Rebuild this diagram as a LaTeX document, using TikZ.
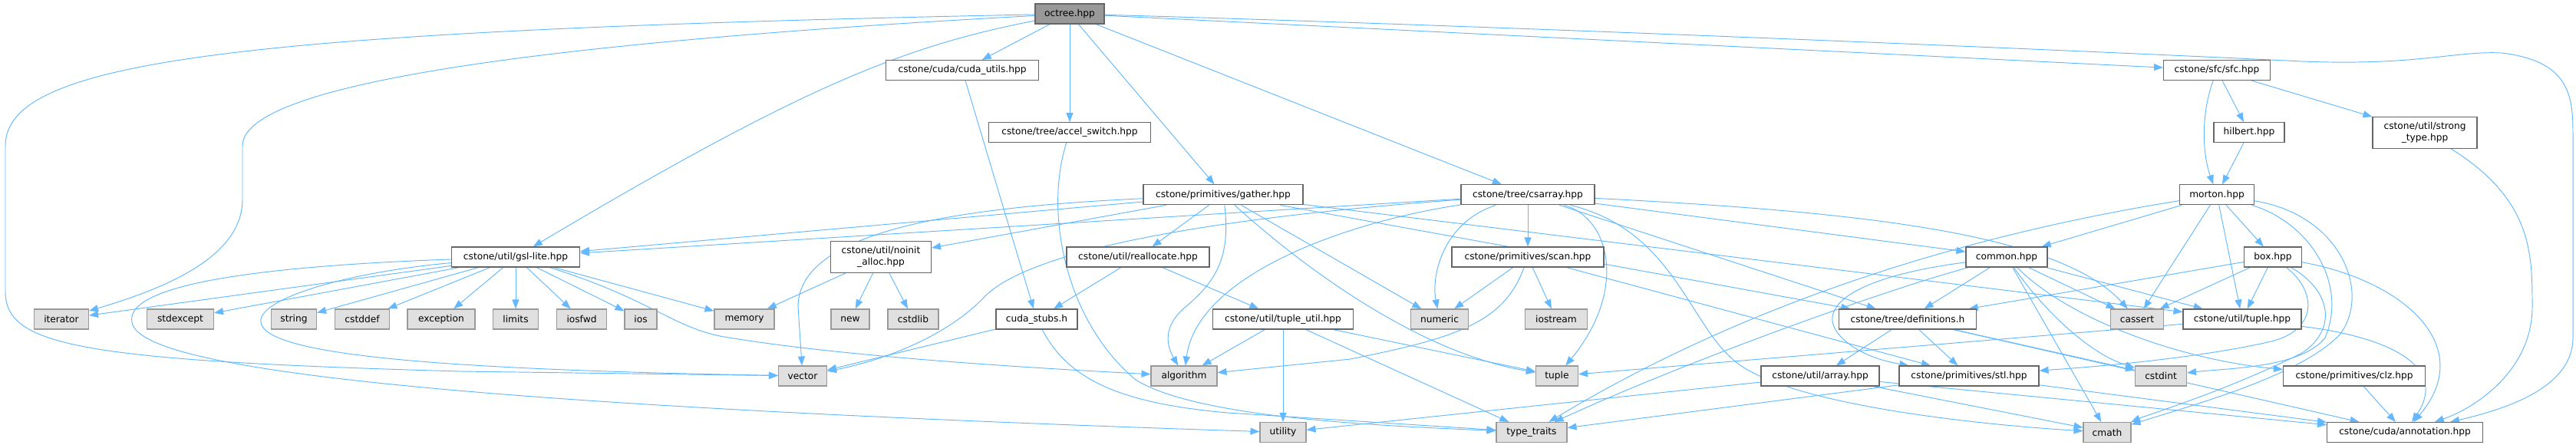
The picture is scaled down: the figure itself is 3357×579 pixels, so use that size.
\documentclass[tikz,border=0pt]{standalone}
\usepackage{fontspec}
\setmainfont{DejaVu Sans}
\usetikzlibrary{arrows.meta}
\definecolor{edgec}{HTML}{63B8FF}
\definecolor{nodeb}{HTML}{666666}
\definecolor{sysfill}{HTML}{E0E0E0}
\definecolor{sysb}{HTML}{999999}
\definecolor{rootfill}{HTML}{999999}
\pgfdeclarelayer{background}
\pgfsetlayers{background,main}
\tikzset{
  nd/.style={draw=nodeb, fill=white, line width=1.1pt, minimum height=26pt, inner sep=0pt,
    font=\fontsize{12.2}{15}\selectfont},
  nd2/.style={nd, minimum height=41pt, align=center},
  sys/.style={nd, draw=sysb, fill=sysfill},
  root/.style={nd, fill=rootfill},
  e/.style={draw=edgec, line width=0.95pt, -{Triangle[length=12pt,width=9pt]}}
}
\begin{document}
\begin{tikzpicture}[x=1pt,y=-1pt]
\useasboundingbox (0,0) rectangle (3357,579);
% row 0
\node[root, minimum width=90] (octree) at (1394,18) {octree.hpp};
% row 1
\node[nd, minimum width=199] (cudautils) at (1254,91.5) {cstone/cuda/cuda\_utils.hpp};
\node[nd, minimum width=139] (sfc) at (2889,91.5) {cstone/sfc/sfc.hpp};
% row 2
\node[nd, minimum width=211] (accel) at (1394,172.6) {cstone/tree/accel\_switch.hpp};
\node[nd, minimum width=92] (hilbert) at (2931,172.6) {hilbert.hpp};
\node[nd2, minimum width=136] (strong) at (3160,172.6) {cstone/util/strong\\\_type.hpp};
% row 3
\node[nd, minimum width=208] (gather) at (1594,253.8) {cstone/primitives/gather.hpp};
\node[nd, minimum width=174] (csarray) at (1991,253.8) {cstone/tree/csarray.hpp};
\node[nd, minimum width=97] (morton) at (2889,253.8) {morton.hpp};
% row 4
\node[nd, minimum width=167] (gsl) at (672,335) {cstone/util/gsl-lite.hpp};
\node[nd2, minimum width=131] (noinit) at (1148,335) {cstone/util/noinit\\\_alloc.hpp};
\node[nd, minimum width=186] (realloc) at (1483,335) {cstone/util/reallocate.hpp};
\node[nd, minimum width=198] (scan) at (1991,335) {cstone/primitives/scan.hpp};
\node[nd, minimum width=106] (common) at (2615,335) {common.hpp};
\node[nd, minimum width=75] (box) at (2962,335) {box.hpp};
% row 5
\node[sys, minimum width=71] (iterator) at (80,416) {iterator};
\node[sys, minimum width=87] (stdexcept) at (235,416) {stdexcept};
\node[sys, minimum width=59] (string) at (383,416) {string};
\node[sys, minimum width=71] (cstddef) at (472,416) {cstddef};
\node[sys, minimum width=88] (exception) at (575,416) {exception};
\node[sys, minimum width=59] (limits) at (672,416) {limits};
\node[sys, minimum width=65] (iosfwd) at (758,416) {iosfwd};
\node[sys, minimum width=42] (ios) at (835,416) {ios};
\node[sys, minimum width=78] (memory) at (970,416) {memory};
\node[sys, minimum width=50] (new) at (1108,416) {new};
\node[sys, minimum width=66] (cstdlib) at (1190,416) {cstdlib};
\node[nd, minimum width=106] (cudastubs) at (1351,416) {cuda\_stubs.h};
\node[nd, minimum width=183] (tupleutil) at (1672,416) {cstone/util/tuple\_util.hpp};
\node[sys, minimum width=75] (numeric) at (1876,416) {numeric};
\node[sys, minimum width=81] (iostream) at (2028,416) {iostream};
\node[nd, minimum width=179] (defs) at (2486,416) {cstone/tree/definitions.h};
\node[sys, minimum width=69] (cassert) at (2785,416) {cassert};
\node[nd, minimum width=154] (tuplehpp) at (2922,416) {cstone/util/tuple.hpp};
% row 6
\node[sys, minimum width=63] (vector) at (1046,490) {vector};
\node[sys, minimum width=86] (algorithm) at (1543,490) {algorithm};
\node[sys, minimum width=55] (tuple) at (2029,490) {tuple};
\node[nd, minimum width=154] (array) at (2372,490) {cstone/util/array.hpp};
\node[nd, minimum width=182] (stl) at (2566,490) {cstone/primitives/stl.hpp};
\node[sys, minimum width=67] (cstdint) at (2816,490) {cstdint};
\node[nd, minimum width=185] (clz) at (3068,490) {cstone/primitives/clz.hpp};
% row 7
\node[sys, minimum width=60] (utility) at (1672,563.5) {utility};
\node[sys, minimum width=92] (typetraits) at (1996,563.5) {type\_traits};
\node[sys, minimum width=62] (cmath) at (2746,563.5) {cmath};
\node[nd, minimum width=203] (annot) at (3134,563.5) {cstone/cuda/annotation.hpp};

\begin{pgfonlayer}{background}
% octree
\draw[e] (octree) .. controls (800,50) and (316,100) .. (316,190) -- (316,260) .. controls (316,340) and (200,380) .. (iterator);
\draw[e] (octree) .. controls (300,40) and (7,80) .. (7,190) -- (7,380) .. controls (7,450) and (100,470) .. (600,484) -- (vector);
\draw[e] (octree) .. controls (1180,60) and (1050,110) .. (gsl);
\draw[e] (octree) -- (cudautils);
\draw[e] (octree) -- (accel);
\draw[e] (octree) -- (gather);
\draw[e] (octree) -- (csarray);
\draw[e] (octree) -- (sfc);
\draw[e] (octree) .. controls (2000,35) and (2800,70) .. (3000,80) .. controls (3150,86) and (3200,66) .. (3260,69) .. controls (3353,80) and (3353,130) .. (3353,180) -- (3353,440) .. controls (3353,500) and (3280,530) .. (annot);
% cuda utils, accel
\draw[e] (cudautils) -- (cudastubs);
\draw[e] (accel) .. controls (1360,280) and (1390,420) .. (1480,495) .. controls (1560,545) and (1800,555) .. (typetraits);
% gather
\draw[e] (gather) -- (gsl);
\draw[e] (gather) -- (noinit);
\draw[e] (gather) -- (realloc);
\draw[e] (gather) .. controls (1605,340) and (1580,370) .. (1545,400) .. controls (1515,425) and (1520,450) .. (algorithm);
\draw[e] (gather) -- (numeric);
\draw[e] (gather) .. controls (1700,350) and (1850,460) .. (tuple);
\draw[e] (gather) .. controls (1250,270) and (1040,300) .. (1040,400) -- (vector);
\draw[e] (gather) -- (defs);
\draw[e] (gather) -- (tuplehpp);
% csarray
\draw[e] (csarray) -- (gsl);
\draw[e] (csarray) .. controls (1700,275) and (1350,310) .. (1280,390) .. controls (1230,440) and (1150,470) .. (vector);
\draw[e] (csarray) .. controls (1750,290) and (1560,360) .. (algorithm);
\draw[e] (csarray) .. controls (1880,290) and (1865,360) .. (numeric);
\draw[e] (csarray) -- (scan);
\draw[e] (csarray) .. controls (2100,285) and (2120,380) .. (tuple);
\draw[e] (csarray) .. controls (2180,300) and (2200,420) .. (2260,470) .. controls (2330,530) and (2600,555) .. (cmath);
\draw[e] (csarray) -- (common);
\draw[e] (csarray) -- (defs);
\draw[e] (csarray) .. controls (2400,275) and (2680,300) .. (cassert);
% scan
\draw[e] (scan) -- (numeric);
\draw[e] (scan) -- (iostream);
\draw[e] (scan) .. controls (1960,420) and (1900,440) .. (1760,468) -- (algorithm);
\draw[e] (scan) -- (stl);
% reallocate, noinit
\draw[e] (realloc) -- (cudastubs);
\draw[e] (realloc) -- (tupleutil);
\draw[e] (noinit) -- (memory);
\draw[e] (noinit) -- (new);
\draw[e] (noinit) -- (cstdlib);
% gsl
\draw[e] (gsl) -- (iterator);
\draw[e] (gsl) -- (stdexcept);
\draw[e] (gsl) -- (string);
\draw[e] (gsl) -- (cstddef);
\draw[e] (gsl) -- (exception);
\draw[e] (gsl) -- (limits);
\draw[e] (gsl) -- (iosfwd);
\draw[e] (gsl) -- (ios);
\draw[e] (gsl) -- (memory);
\draw[e] (gsl) .. controls (450,355) and (335,390) .. (340,420) .. controls (345,465) and (600,482) .. (vector);
\draw[e] (gsl) .. controls (850,390) and (880,430) .. (950,440) .. controls (1100,465) and (1350,480) .. (algorithm);
\draw[e] (gsl) .. controls (250,350) and (165,385) .. (172,420) .. controls (180,475) and (500,525) .. (utility);
% cuda stubs, tuple util
\draw[e] (cudastubs) -- (vector);
\draw[e] (cudastubs) .. controls (1390,490) and (1450,525) .. (1600,538) -- (typetraits);
\draw[e] (tupleutil) -- (algorithm);
\draw[e] (tupleutil) -- (utility);
\draw[e] (tupleutil) -- (tuple);
\draw[e] (tupleutil) -- (typetraits);
% sfc
\draw[e] (sfc) .. controls (2868,150) and (2870,200) .. (morton);
\draw[e] (sfc) -- (hilbert);
\draw[e] (sfc) -- (strong);
\draw[e] (hilbert) -- (morton);
\draw[e] (strong) .. controls (3300,260) and (3300,330) .. (3300,400) .. controls (3300,480) and (3230,530) .. (annot);
% morton
\draw[e] (morton) -- (common);
\draw[e] (morton) -- (cassert);
\draw[e] (morton) -- (tuplehpp);
\draw[e] (morton) -- (box);
\draw[e] (morton) .. controls (3010,290) and (3060,370) .. (3030,440) .. controls (3000,480) and (2900,480) .. (cstdint);
\draw[e] (morton) .. controls (3050,280) and (3090,380) .. (3050,435) .. controls (3000,490) and (2850,530) .. (cmath);
\draw[e] (morton) .. controls (2600,300) and (2300,380) .. (typetraits);
% common
\draw[e] (common) -- (defs);
\draw[e] (common) -- (cassert);
\draw[e] (common) -- (tuplehpp);
\draw[e] (common) -- (cmath);
\draw[e] (common) .. controls (2660,400) and (2720,460) .. (cstdint);
\draw[e] (common) .. controls (2700,420) and (2850,470) .. (clz);
\draw[e] (common) .. controls (2420,360) and (2360,400) .. (2400,440) .. controls (2420,460) and (2450,470) .. (stl);
\draw[e] (common) .. controls (2450,380) and (2200,470) .. (typetraits);
% box
\draw[e] (box) -- (defs);
\draw[e] (box) -- (cassert);
\draw[e] (box) -- (tuplehpp);
\draw[e] (box) .. controls (3020,380) and (3020,430) .. (2960,445) .. controls (2850,470) and (2700,480) .. (stl);
\draw[e] (box) .. controls (3040,380) and (3045,430) .. (3000,460) .. controls (2900,510) and (2800,540) .. (cmath);
\draw[e] (box) .. controls (3130,365) and (3230,450) .. (annot);
% definitions
\draw[e] (defs) -- (array);
\draw[e] (defs) -- (stl);
\draw[e] (defs) -- (cstdint);
\draw[e] (defs) -- (annot);
% tuple.hpp
\draw[e] (tuplehpp) -- (tuple);
\draw[e] (tuplehpp) .. controls (3120,440) and (3190,480) .. (annot);
% array, stl, clz
\draw[e] (array) -- (utility);
\draw[e] (array) -- (cmath);
\draw[e] (array) -- (annot);
\draw[e] (stl) -- (typetraits);
\draw[e] (stl) -- (annot);
\draw[e] (clz) -- (annot);
\end{pgfonlayer}
\end{tikzpicture}
\end{document}
